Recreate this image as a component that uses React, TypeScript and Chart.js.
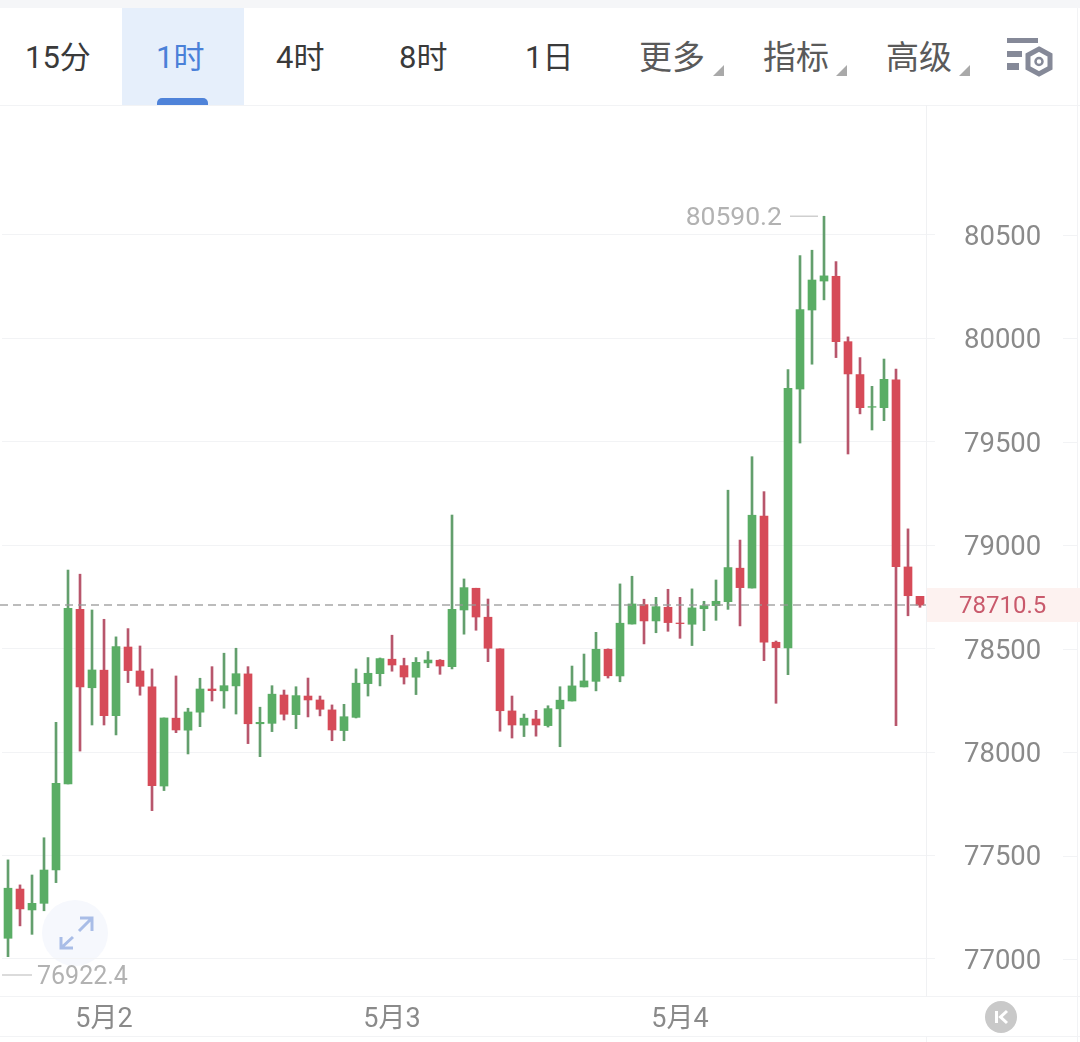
import React, { useEffect, useRef } from "react";
import { Chart, registerables } from "chart.js";

Chart.register(...registerables);

const opens = [
  77100, 77338, 77237, 77269, 77430, 77846, 78690, 78311, 78396, 78176, 78508, 78392, 78316, 77836, 78164, 78106,
  78193, 78305, 78296, 78320, 78378, 78137, 78139, 78276, 78181, 78271, 78252, 78204, 78104, 78168, 78331, 78379,
  78449, 78418, 78362, 78431, 78444, 78413, 78687, 78792, 78652, 78499, 78199, 78130, 78160, 78128, 78209, 78247,
  78315, 78342, 78497, 78368, 78619, 78713, 78634, 78700, 78624, 78618, 78693, 78708, 78727, 78889, 78793, 79141,
  78531, 78503, 79755, 80137, 80277, 80300, 79984, 79825, 79667, 79665, 79800, 78895, 78753,
];
const highs = [
  77479, 77358, 77406, 77586, 78144, 78880, 78860, 78687, 78642, 78557, 78597, 78513, 78402, 78165, 78368, 78212,
  78357, 78413, 78478, 78502, 78413, 78217, 78321, 78300, 78316, 78358, 78271, 78228, 78231, 78402, 78457, 78455,
  78565, 78454, 78457, 78486, 78447, 79146, 78837, 78792, 78740, 78499, 78271, 78184, 78202, 78224, 78316, 78416,
  78474, 78579, 78499, 78813, 78850, 78739, 78748, 78787, 78748, 78789, 78729, 78832, 79266, 79025, 79428, 79259,
  78537, 79849, 80400, 80426, 80590.2, 80371, 80007, 79907, 79768, 79900, 79851, 79079, 78753,
];
const lows = [
  77011, 77160, 77119, 77233, 77369, 77846, 78005, 78131, 78131, 78083, 78336, 78275, 77717, 77814, 78094, 77991,
  78123, 78247, 78212, 78184, 78041, 77978, 78099, 78155, 78113, 78170, 78175, 78055, 78055, 78165, 78271, 78320,
  78391, 78329, 78278, 78408, 78376, 78402, 78570, 78589, 78437, 78101, 78068, 78075, 78077, 78121, 78026, 78247,
  78315, 78296, 78358, 78340, 78619, 78523, 78577, 78584, 78550, 78515, 78587, 78637, 78690, 78610, 78793, 78442,
  78236, 78374, 79494, 79875, 80186, 79907, 79441, 79635, 79557, 79602, 78128, 78659, 78700,
];
const closes = [
  77342, 77242, 77269, 77430, 77849, 78695, 78315, 78397, 78176, 78510, 78394, 78318, 77838, 78165, 78107, 78194,
  78305, 78297, 78321, 78379, 78137, 78144, 78280, 78183, 78273, 78252, 78207, 78107, 78171, 78333, 78381, 78452,
  78421, 78363, 78434, 78445, 78416, 78690, 78795, 78653, 78502, 78200, 78131, 78164, 78131, 78210, 78251, 78320,
  78344, 78497, 78369, 78623, 78716, 78634, 78703, 78626, 78621, 78697, 78708, 78729, 78892, 78795, 79145, 78531,
  78505, 79759, 80139, 80282, 80302, 79984, 79828, 79665, 79670, 79802, 78896, 78756, 78710.5,
];
const yTickValues = [77000, 77500, 78000, 78500, 79000, 79500, 80000, 80500];
const dateLabels = ["5月2", "5月3", "5月4"];
const dateTickIndexes = [8, 32, 56];
const categories = opens.map((_, i) => {
  const k = dateTickIndexes.indexOf(i);
  return k >= 0 ? dateLabels[k] : "";
});
const tabs = [
  { label: "15分", x: 25, color: "#3a3a3a", size: 31 },
  { label: "1时", x: 156, color: "#4a80d8", size: 31 },
  { label: "4时", x: 276, color: "#3a3a3a", size: 31 },
  { label: "8时", x: 399, color: "#3a3a3a", size: 31 },
  { label: "1日", x: 525, color: "#3a3a3a", size: 31 },
  { label: "更多", x: 639, color: "#5a5a5a", size: 33 },
  { label: "指标", x: 763, color: "#5a5a5a", size: 33 },
  { label: "高级", x: 886, color: "#5a5a5a", size: 33 },
];
const highLabel = "80590.2";
const lowLabel = "76922.4";
const lowValue = 76922.4;
const highValue = 80590.2;
const lastPrice = 78710.5;
const lastLabel = "78710.5";

const FONT = 'Roboto, "Noto Sans CJK SC", sans-serif';
const GREEN = "#5aad65";
const RED = "#d64b58";
const GREEN_WICK = "#639f6d";
const RED_WICK = "#b8566c";
const GRID = "#f2f3f5";

const overlayPlugin = {
  id: "priceOverlay",
  afterDatasetsDraw(chart: any) {
    const { ctx, chartArea, scales } = chart;
    const y = scales.y;
    ctx.save();
    // grid stubs to the right of the axis labels
    ctx.strokeStyle = GRID;
    ctx.lineWidth = 1;
    y.ticks.forEach((t: any) => {
      const py = Math.round(y.getPixelForValue(t.value)) + 0.5;
      ctx.beginPath();
      ctx.moveTo(1063, py);
      ctx.lineTo(1077, py);
      ctx.stroke();
    });
    // current price dashed line
    const lastY = y.getPixelForValue(lastPrice);
    ctx.strokeStyle = "rgba(150,150,150,0.85)";
    ctx.lineWidth = 1.5;
    ctx.setLineDash([8, 5]);
    ctx.beginPath();
    ctx.moveTo(0, lastY);
    ctx.lineTo(chartArea.right, lastY);
    ctx.stroke();
    ctx.setLineDash([]);
    // high and low markers
    ctx.textBaseline = "middle";
    ctx.font = `26.5px ${FONT}`;
    ctx.fillStyle = "#b2b2b2";
    const hiY = y.getPixelForValue(highValue);
    ctx.textAlign = "right";
    ctx.fillText(highLabel, 782, hiY + 2);
    const loY = y.getPixelForValue(lowValue);
    ctx.textAlign = "left";
    ctx.font = `25px ${FONT}`;
    ctx.fillText(lowLabel, 37, loY + 3);
    ctx.strokeStyle = "#cfcfcf";
    ctx.lineWidth = 1.5;
    ctx.beginPath();
    ctx.moveTo(790, hiY);
    ctx.lineTo(818, hiY);
    ctx.moveTo(2, loY);
    ctx.lineTo(32, loY);
    ctx.stroke();
    // current price label
    ctx.font = `24px ${FONT}`;
    ctx.fillStyle = "#c95a6c";
    ctx.fillText(lastLabel, 959, lastY + 2);
    ctx.restore();
  },
};

export default function App() {
  const ref = useRef<HTMLCanvasElement>(null);
  useEffect(() => {
    const isUp = opens.map((o, i) => closes[i] >= o);
    const chart = new Chart(ref.current as HTMLCanvasElement, {
      type: "bar",
      plugins: [overlayPlugin],
      data: {
        labels: categories,
        datasets: [
          {
            label: "wick",
            data: lows.map((l, i) => [l, highs[i]]),
            backgroundColor: isUp.map((u) => (u ? GREEN_WICK : RED_WICK)),
            barThickness: 2,
            grouped: false,
            order: 2,
          },
          {
            label: "body",
            data: opens.map((o, i) => [o, closes[i]]),
            backgroundColor: isUp.map((u) => (u ? GREEN : RED)),
            barThickness: 8,
            grouped: false,
            order: 1,
          },
        ],
      } as any,
      options: {
        responsive: false,
        animation: false,
        layout: { padding: { top: 105, left: 1.5, right: 0, bottom: 0 } },
        plugins: { legend: { display: false }, tooltip: { enabled: false } },
        scales: {
          x: {
            type: "category",
            position: "bottom",
            offset: true,
            grid: { display: false, drawTicks: false },
            border: { display: false },
            ticks: {
              autoSkip: false,
              maxRotation: 0,
              minRotation: 0,
              padding: 8,
              color: "#8a8a8a",
              font: { family: FONT, size: 27 },
            },
            afterFit: (s: any) => {
              s.height = 46;
            },
          },
          y: {
            type: "linear",
            position: "right",
            min: 76821,
            max: 81128,
            grid: { color: GRID, lineWidth: 1, drawTicks: true, tickLength: 9 },
            border: { display: true, color: "#f0f1f3", width: 1 },
            afterBuildTicks: (s: any) => {
              s.ticks = yTickValues.map((value) => ({ value }));
            },
            ticks: {
              crossAlign: "near",
              padding: 29,
              labelOffset: 3,
              color: "#8a8a8a",
              font: { family: FONT, size: 27.5 },
              callback: (v: any) => String(v),
            },
            afterFit: (s: any) => {
              s.width = 154;
            },
          },
        },
      } as any,
    });
    return () => chart.destroy();
  }, []);

  const text: React.CSSProperties = { position: "absolute", top: 33, lineHeight: "50px", whiteSpace: "nowrap", fontFamily: FONT };
  const line = (top: number): React.CSSProperties => ({ position: "absolute", left: 0, top, width: 1080, height: 1, background: GRID });

  return (
    <div style={{ position: "absolute", left: 0, top: 0, width: 1080, height: 1042, background: "#fff", overflow: "hidden" }}>
      <div style={{ position: "absolute", left: 0, top: 0, width: 1080, height: 8, background: "#f5f6f8" }} />
      <div style={{ position: "absolute", left: 122, top: 8, width: 122, height: 97, background: "#e6effb" }} />
      <div style={{ position: "absolute", left: 157, top: 98, width: 51, height: 7, background: "#4f83d9", borderRadius: "5px 5px 0 0" }} />
      <div style={line(105)} />
      <div style={line(996)} />
      <div style={line(1036)} />
      <div style={{ position: "absolute", left: 1077, top: 8, width: 1, height: 1034, background: GRID }} />
      <div style={{ position: "absolute", left: 926, top: 1036, width: 1, height: 6, background: GRID }} />
      <div style={{ position: "absolute", left: 927, top: 588, width: 153, height: 34, background: "#fdf2f0" }} />
      {tabs.map((t) => (
        <span key={t.label} style={{ ...text, left: t.x, color: t.color, fontSize: t.size }}>
          {t.label}
        </span>
      ))}
      <svg width={1080} height={1042} style={{ position: "absolute", left: 0, top: 0 }}>
        <polygon points="713,76 724,65 724,76" fill="#a9a9a9" />
        <polygon points="836,76 847,65 847,76" fill="#a9a9a9" />
        <polygon points="959,76 970,65 970,76" fill="#a9a9a9" />
        <rect x={1007} y={38} width={31} height={5} fill="#858998" />
        <rect x={1007} y={51} width={15} height={6} fill="#858998" />
        <rect x={1007} y={63} width={12} height={7} fill="#858998" />
        <polygon points="1039,49 1050,55 1050,68 1039,74 1028,68 1028,55" fill="none" stroke="#858998" strokeWidth={5} />
        <circle cx={1039} cy={61.5} r={3.5} fill="none" stroke="#858998" strokeWidth={2.5} />
        <circle cx={75} cy={933} r={33} fill="#f6f8fd" />
        <g fill="none" stroke="#a9bde7" strokeWidth={3}>
          <path d="M80,918 L92,918 L92,931 M92,918 L79,931" />
          <path d="M61,937 L61,948 L73,948 M61,948 L73,937" />
        </g>
        <circle cx={1001} cy={1017} r={16} fill="#c9c9c9" />
        <g fill="none" stroke="#ffffff" strokeWidth={3}>
          <path d="M996.5,1011 L996.5,1023" />
          <path d="M1007,1011 L1000.5,1017 L1007,1023" />
        </g>
      </svg>
      <canvas ref={ref} width={1080} height={1042} style={{ position: "absolute", left: 0, top: 0, display: "block" }} />
    </div>
  );
}
